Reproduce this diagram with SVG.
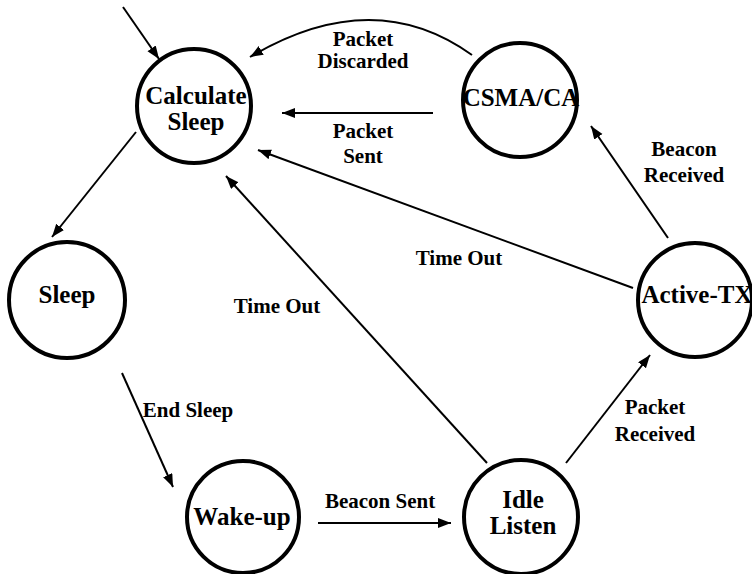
<svg xmlns="http://www.w3.org/2000/svg" width="752" height="574" viewBox="0 0 752 574">
<style>
.node{fill:#fff;stroke:#000;stroke-width:4}
.edge{fill:none;stroke:#000;stroke-width:2;marker-end:url(#ah)}
</style>
<defs>
<marker id="ah" markerUnits="userSpaceOnUse" markerWidth="14" markerHeight="12" refX="13" refY="5" orient="auto">
<path d="M0,0 L13,5 L0,10 z" fill="#000"/>
</marker>
</defs>
<rect width="752" height="574" fill="#fff"/>
<g id="connectors">
<path class="edge" d="M123,7 L159,59"/>
<path class="edge" d="M472,55 Q373,-16 250,57"/>
<path class="edge" d="M433,113 L282,113"/>
<path class="edge" d="M633,288 L258,150"/>
<path class="edge" d="M487,463 L226,176"/>
<path class="edge" d="M136,132 L52,237"/>
<path class="edge" d="M122,373 L173,487"/>
<path class="edge" d="M318,523 L451,523"/>
<path class="edge" d="M566,463 L650,355"/>
<path class="edge" d="M668,238 L591,126"/>
</g>
<g id="edge-labels" font-family="Liberation Serif, Times New Roman, serif" font-weight="bold" font-size="21" text-anchor="middle" fill="#000">
<text x="363" y="46">Packet</text>
<text x="363" y="68">Discarded</text>
<text x="363" y="138">Packet</text>
<text x="363" y="163">Sent</text>
<text x="684" y="156">Beacon</text>
<text x="684" y="182">Received</text>
<text x="459" y="265">Time Out</text>
<text x="277" y="313">Time Out</text>
<text x="188" y="417">End Sleep</text>
<text x="380" y="508">Beacon Sent</text>
<text x="655" y="414">Packet</text>
<text x="655" y="441">Received</text>
</g>
<g font-family="Liberation Serif, Times New Roman, serif" font-weight="bold" font-size="25" text-anchor="middle" fill="#000">
<g id="calculate-sleep">
<circle class="node" cx="194" cy="106" r="57"/>
<text x="196" y="104">Calculate</text>
<text x="196" y="130">Sleep</text>
</g>
<g id="csma-ca">
<circle class="node" cx="520" cy="100" r="57"/>
<text x="521" y="106">CSMA/CA</text>
</g>
<g id="active-tx">
<circle class="node" cx="695" cy="300" r="57"/>
<text x="697" y="303">Active-TX</text>
</g>
<g id="sleep">
<circle class="node" cx="67" cy="300" r="58"/>
<text x="67" y="303">Sleep</text>
</g>
<g id="wake-up">
<circle class="node" cx="243" cy="517" r="56"/>
<text x="242" y="525">Wake-up</text>
</g>
<g id="idle-listen">
<circle class="node" cx="521" cy="517" r="57"/>
<text x="523" y="508">Idle</text>
<text x="523" y="534">Listen</text>
</g>
</g>
</svg>
